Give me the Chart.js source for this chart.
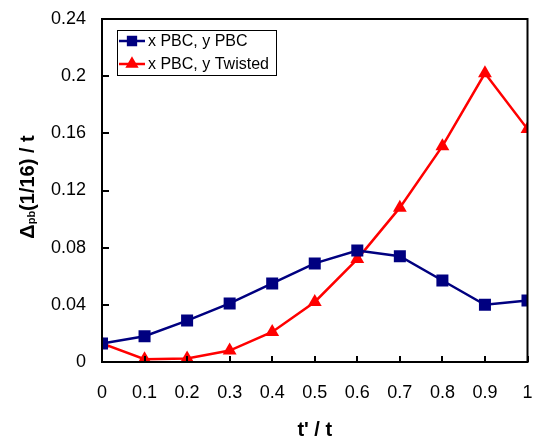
<!DOCTYPE html>
<html><head><meta charset="utf-8">
<script src="https://cdn.jsdelivr.net/npm/chart.js@4/dist/chart.umd.min.js"></script>
<style>html,body{margin:0;padding:0;background:#fff}</style>
</head><body>
<canvas id="c" width="536" height="439"></canvas>
<script>
const xValues = [0, 0.1, 0.2, 0.3, 0.4, 0.5, 0.6, 0.7, 0.8, 0.9, 1];
const pbcPbc = [0.013, 0.018, 0.029, 0.041, 0.055, 0.069, 0.078, 0.074, 0.057, 0.040, 0.043];
const pbcTwisted = [0.013, 0.002, 0.0025, 0.008, 0.021, 0.042, 0.072, 0.108, 0.151, 0.202, 0.163];
const xTicks = [0, 0.1, 0.2, 0.3, 0.4, 0.5, 0.6, 0.7, 0.8, 0.9, 1];
const yTicks = [0, 0.04, 0.08, 0.12, 0.16, 0.2, 0.24];
const seriesNames = ['x PBC, y PBC', 'x PBC, y Twisted'];
const xTitle = "t' / t";
const yTitleParts = ['\u0394', 'pb', '(1/16) / t'];

const FONT = '"Liberation Sans", Arial, sans-serif';

const boxPlugin = {
  id: 'boxTicks',
  afterDraw(chart) {
    const ctx = chart.ctx, a = chart.chartArea;
    const xs = chart.scales.x, ys = chart.scales.y;
    ctx.save();
    ctx.strokeStyle = '#000';
    ctx.lineWidth = 2;
    ctx.strokeRect(a.left, a.top, a.right - a.left, a.bottom - a.top);
    ctx.beginPath();
    yTicks.forEach(v => {
      const y = Math.round(ys.getPixelForValue(v));
      ctx.moveTo(a.left, y); ctx.lineTo(a.left + 7, y);
    });
    xTicks.forEach(v => {
      const x = Math.round(xs.getPixelForValue(v));
      ctx.moveTo(x, a.bottom); ctx.lineTo(x, a.bottom - 6);
    });
    ctx.stroke();
    // x title
    ctx.fillStyle = '#000';
    ctx.font = 'bold 20px ' + FONT;
    ctx.textAlign = 'center';
    ctx.textBaseline = 'alphabetic';
    ctx.fillText(xTitle, (a.left + a.right) / 2, 436);
    // y title with subscript
    const big = 'bold 20px ' + FONT, small = 'bold 11px ' + FONT;
    ctx.font = big; const w0 = ctx.measureText(yTitleParts[0]).width;
    const w2 = ctx.measureText(yTitleParts[2]).width;
    ctx.font = small; const w1 = ctx.measureText(yTitleParts[1]).width;
    const total = w0 + w1 + w2;
    ctx.translate(34, 187);
    ctx.rotate(-Math.PI / 2);
    ctx.textAlign = 'left';
    let x = -total / 2;
    ctx.font = big; ctx.fillText(yTitleParts[0], x, 0); x += w0;
    ctx.font = small; ctx.fillText(yTitleParts[1], x, 1); x += w1;
    ctx.font = big; ctx.fillText(yTitleParts[2], x, 0);
    ctx.restore();
  }
};

const legendPlugin = {
  id: 'boxLegend',
  afterDatasetsDraw(chart) {
    const ctx = chart.ctx;
    const L = 117, T = 30, W = 159, H = 45;
    ctx.save();
    ctx.fillStyle = '#fff';
    ctx.fillRect(L, T, W, H);
    ctx.strokeStyle = '#000';
    ctx.lineWidth = 1;
    ctx.strokeRect(L + 0.5, T + 0.5, W, H);
    chart.data.datasets.forEach((ds, i) => {
      const y = T + 11 + i * 23;
      ctx.strokeStyle = ds.borderColor;
      ctx.lineWidth = ds.borderWidth;
      ctx.beginPath(); ctx.moveTo(L + 2, y); ctx.lineTo(L + 28, y); ctx.stroke();
      Chart.helpers.drawPoint(ctx, {pointStyle: ds.pointStyle, radius: ds.pointRadius * 0.65, borderWidth: 1}, L + 15, y);
      ctx.fillStyle = ds.pointBackgroundColor;
      ctx.fill();
      ctx.fillStyle = '#000';
      ctx.font = '16px ' + FONT;
      ctx.textAlign = 'left';
      ctx.textBaseline = 'middle';
      ctx.fillText(seriesNames[i], L + 31, y + 1);
    });
    ctx.restore();
  }
};

new Chart(document.getElementById('c'), {
  type: 'line',
  data: {
    datasets: [
      {
        label: seriesNames[0],
        data: xValues.map((x, i) => ({x, y: pbcPbc[i]})),
        borderColor: '#000080', backgroundColor: '#000080',
        pointBackgroundColor: '#000080', pointBorderColor: '#000080',
        borderWidth: 2.5, pointStyle: 'rect', pointRadius: 8.5, pointBorderWidth: 0,
        tension: 0
      },
      {
        label: seriesNames[1],
        data: xValues.map((x, i) => ({x, y: pbcTwisted[i]})),
        borderColor: '#ff0000', backgroundColor: '#ff0000',
        pointBackgroundColor: '#ff0000', pointBorderColor: '#ff0000',
        borderWidth: 2.5, pointStyle: 'triangle', pointRadius: 8, pointBorderWidth: 0,
        tension: 0
      }
    ]
  },
  options: {
    responsive: false,
    animation: false,
    devicePixelRatio: 1,
    layout: {padding: {top: 19, right: 4, bottom: 0, left: 0}},
    plugins: {legend: {display: false}, tooltip: {enabled: false}},
    scales: {
      x: {
        type: 'linear', min: 0, max: 1,
        afterBuildTicks: s => { s.ticks = xTicks.map(v => ({value: v})); },
        afterFit: s => { s.height = 77; s.paddingLeft = 0; s.paddingRight = 0; },
        grid: {display: false, drawTicks: false},
        border: {display: false},
        ticks: {
          color: '#000', padding: 20, maxRotation: 0, autoSkip: false,
          font: {family: FONT, size: 18},
          callback: v => String(Math.round(v * 10) / 10)
        }
      },
      y: {
        type: 'linear', min: 0, max: 0.24,
        afterBuildTicks: s => { s.ticks = yTicks.map(v => ({value: v})); },
        afterFit: s => { s.width = 102; s.paddingTop = 0; s.paddingBottom = 0; },
        grid: {display: false, drawTicks: false},
        border: {display: false},
        ticks: {
          color: '#000', padding: 16, autoSkip: false,
          font: {family: FONT, size: 18},
          callback: v => String(Math.round(v * 100) / 100)
        }
      }
    }
  },
  plugins: [boxPlugin, legendPlugin]
});
</script>
</body></html>
